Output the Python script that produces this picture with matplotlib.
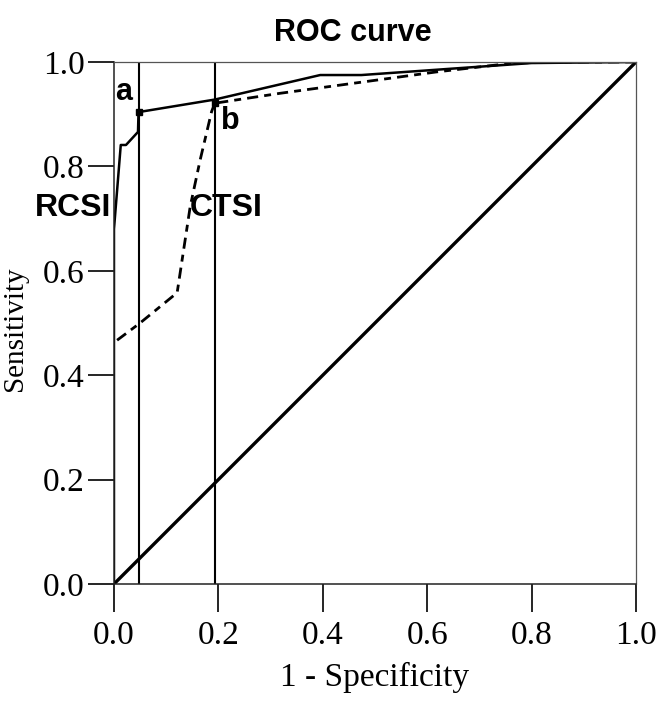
import numpy as np
import matplotlib
matplotlib.use("Agg")
import matplotlib.pyplot as plt

# RCSI curve (solid)
rcsi_fpr = [0.0, 0.0, 0.013, 0.023, 0.046, 0.047, 0.193, 0.395, 0.474, 0.80, 1.0]
rcsi_tpr = [0.0, 0.68, 0.841, 0.841, 0.866, 0.904, 0.928, 0.975, 0.975, 0.998, 1.0]

# CTSI curve (dashed)
ctsi_fpr = [0.006, 0.05, 0.121, 0.146, 0.165, 0.187, 0.193, 0.318, 0.618, 0.765, 0.874, 1.0]
ctsi_tpr = [0.467, 0.50, 0.558, 0.723, 0.812, 0.905, 0.921, 0.94, 0.981, 0.998, 1.0, 1.0]

# cut-off points a and b
cut_fpr = [0.047, 0.193]
cut_tpr = [0.904, 0.921]
cut_labels = ["a", "b"]

ticks = [0.0, 0.2, 0.4, 0.6, 0.8, 1.0]

serif = "Liberation Serif"
sans = "Liberation Sans"

fig = plt.figure(figsize=(6.65, 7.02), dpi=100)
ax = fig.add_axes([0.1714, 0.1681, 0.785, 0.7436])

# reference diagonal
ax.plot([0, 1], [0, 1], color="black", lw=2.4, solid_capstyle="butt")

# vertical lines through the cut-off points
for xv in cut_fpr:
    ax.plot([xv, xv], [0, 1], color="black", lw=1.5)

ax.plot(rcsi_fpr, rcsi_tpr, color="black", lw=1.8)
ax.plot(ctsi_fpr, ctsi_tpr, color="black", lw=2.0, linestyle=(0, (4, 2.2, 2.5, 2.2)))
ax.plot(cut_fpr, cut_tpr, "s", color="black", ms=4)

ax.set_xlim(0, 1)
ax.set_ylim(0, 1)
ax.set_xticks(ticks)
ax.set_yticks(ticks)
ax.set_xticklabels([f"{t:.1f}" for t in ticks], family=serif, fontsize=24)
ax.set_yticklabels([f"{t:.1f}" for t in ticks], family=serif, fontsize=24)
ax.tick_params(axis="x", direction="out", length=20, width=1.2, pad=6)
ax.tick_params(axis="y", direction="out", length=19, width=1.2, pad=2)

for side in ["left", "bottom"]:
    ax.spines[side].set_linewidth(1.1)
    ax.spines[side].set_color("#222222")
for side in ["top", "right"]:
    ax.spines[side].set_linewidth(0.9)
    ax.spines[side].set_color("#555555")

ax.set_xlabel("1 - Specificity", family=serif, fontsize=24, labelpad=8)
ax.set_ylabel("Sensitivity", family=serif, fontsize=21)
ax.yaxis.set_label_coords(-0.165, 0.49)

fig.text(0.53, 0.975, "ROC curve", family=sans, fontweight="bold",
         fontsize=22, ha="center", va="top")

ax.text(0.002, 0.928, cut_labels[0], family=sans, fontweight="bold", fontsize=22,
        ha="left", va="baseline")
ax.text(0.205, 0.915, cut_labels[1], family=sans, fontweight="bold", fontsize=22,
        ha="left", va="top")
ax.text(-0.005, 0.72, "RCSI", family=sans, fontweight="bold", fontsize=23,
        ha="right", va="center")
ax.text(0.145, 0.72, "CTSI", family=sans, fontweight="bold", fontsize=23,
        ha="left", va="center")

fig.savefig("out.png", dpi=100)
